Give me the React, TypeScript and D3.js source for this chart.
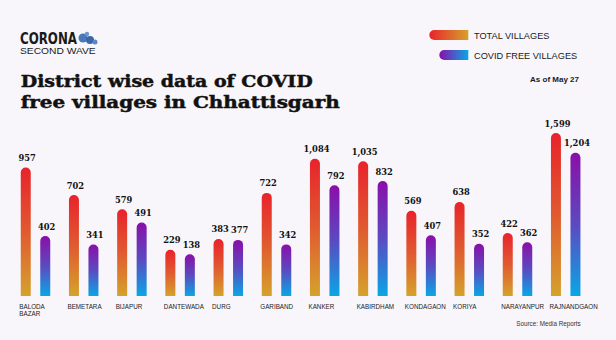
import React from "react";
import * as d3 from "d3";

const districts = ["BALODA BAZAR", "BEMETARA", "BIJAPUR", "DANTEWADA", "DURG", "GARIBAND", "KANKER", "KABIRDHAM", "KONDAGAON", "KORIYA", "NARAYANPUR", "RAJNANDGAON"];
const totalVillages = [957, 702, 579, 229, 383, 722, 1084, 1035, 569, 638, 422, 1599];
const covidFreeVillages = [402, 341, 491, 138, 377, 342, 792, 832, 407, 352, 362, 1204];
const seriesKeys = ["total", "free"];
const legendLabels = ["TOTAL VILLAGES", "COVID FREE VILLAGES"];
const titleLines = ["District wise data of COVID", "free villages in Chhattisgarh"];

const W = 616, H = 340;
const BASE = 296;

export default function App() {
  const x0 = d3.scaleBand<string>().domain(districts).range([16, 16 + 12 * 48.2]).padding(0);
  const x1 = d3.scaleBand<string>().domain(seriesKeys).range([0, 39]).padding(0);
  // the original graphic uses a non-proportional (hand-tuned) vertical scale
  const y = d3.scaleLinear().domain([0, 100, 350, 600, 1000, 1600]).range([BASE - 32, BASE - 40, BASE - 52, BASE - 90, BASE - 133, BASE - 163]);
  const fmt = d3.format(",");
  const barW = 10;

  const barPath = (cx: number, top: number) => {
    const r = barW / 2;
    const l = cx - r, rr = cx + r;
    return `M${l},${BASE}V${top + r}A${r},${r} 0 0 1 ${rr},${top + r}V${BASE}Z`;
  };

  const legendPath = (x: number, yTop: number, w: number, h: number) => {
    const r = h / 2;
    return `M${x + r},${yTop}H${x + w}V${yTop + h}H${x + r}A${r},${r} 0 0 1 ${x + r},${yTop}Z`;
  };

  const sans = "'Liberation Sans', Arial, sans-serif";
  const serif = "'DejaVu Serif', serif";
  const logoFont = "'DejaVu Sans', sans-serif";

  return (
    <div style={{ position: "fixed", left: 0, top: 0 }}>
      <svg width={W} height={H} viewBox={`0 0 ${W} ${H}`}>
        <defs>
          <linearGradient id="gTotal" x1="0" y1="0" x2="0" y2="1">
            <stop offset="0%" stopColor="#e8232b" />
            <stop offset="50%" stopColor="#e05a30" />
            <stop offset="100%" stopColor="#d5a22c" />
          </linearGradient>
          <linearGradient id="gFree" x1="0" y1="0" x2="0" y2="1">
            <stop offset="0%" stopColor="#8a0fa8" />
            <stop offset="50%" stopColor="#5b4ac0" />
            <stop offset="100%" stopColor="#0aa6e6" />
          </linearGradient>
          <linearGradient id="gTotalH" x1="0" y1="0" x2="1" y2="0">
            <stop offset="0%" stopColor="#e8232b" />
            <stop offset="100%" stopColor="#d5a22c" />
          </linearGradient>
          <linearGradient id="gFreeH" x1="0" y1="0" x2="1" y2="0">
            <stop offset="0%" stopColor="#8a0fa8" />
            <stop offset="100%" stopColor="#0aa6e6" />
          </linearGradient>
        </defs>
        <rect x={0} y={0} width={W} height={H} fill="#f8f6fa" />

        {/* Logo */}
        <g>
          <text x={20} y={43.5} fontFamily={logoFont} fontWeight="bold" fontSize={15.5} fill="#1a1a1a" textLength={57} lengthAdjust="spacingAndGlyphs">CORONA</text>
          <circle cx={83} cy={38} r={4.5} fill="#4a78b8" />
          <circle cx={90} cy={40} r={4} fill="#3b66a8" />
          <circle cx={95} cy={42} r={2.5} fill="#5a88c4" />
          <circle cx={87} cy={34} r={2.2} fill="#6c96cc" />
          <text x={20} y={54} fontFamily={sans} fontSize={8.8} fill="#1a1a1a" textLength={75.7} lengthAdjust="spacingAndGlyphs">SECOND WAVE</text>
        </g>

        {/* Title */}
        <text x={20.7} y={86.5} fontFamily={serif} fontWeight="bold" fontSize={17.5} fill="#111" stroke="#111" strokeWidth={0.5} textLength={292} lengthAdjust="spacingAndGlyphs">{titleLines[0]}</text>
        <text x={20.7} y={107.5} fontFamily={serif} fontWeight="bold" fontSize={17.5} fill="#111" stroke="#111" strokeWidth={0.5} textLength={319} lengthAdjust="spacingAndGlyphs">{titleLines[1]}</text>

        {/* Legend */}
        <path d={legendPath(429.3, 30, 39, 10)} fill="url(#gTotalH)" />
        <text x={474} y={38.5} fontFamily={sans} fontSize={9.2} fill="#1a1a1a">{legendLabels[0]}</text>
        <path d={legendPath(439.3, 50, 29, 10)} fill="url(#gFreeH)" />
        <text x={474} y={58.5} fontFamily={sans} fontSize={9.2} fill="#1a1a1a">{legendLabels[1]}</text>
        <text x={579} y={81.5} textAnchor="end" fontFamily={sans} fontWeight="bold" fontSize={8} fill="#1a1a1a">As of May 27</text>

        {/* Bars */}
        {districts.map((d, i) => {
          const gx = x0(d)!;
          const vals = [totalVillages[i], covidFreeVillages[i]];
          const words = d.split(" ");
          return (
            <g key={d}>
              {seriesKeys.map((k, j) => {
                const cx = gx + x1(k)! + x1.bandwidth() / 2;
                const top = y(vals[j]);
                return (
                  <g key={k}>
                    <path d={barPath(cx, top)} fill={j === 0 ? "url(#gTotal)" : "url(#gFree)"} />
                    <text x={cx + 1.5} y={top - 6.5} textAnchor="middle" fontFamily={serif} fontWeight="bold" fontSize={8.3} fill="#111">{fmt(vals[j])}</text>
                  </g>
                );
              })}
              {words.map((w, wi) => (
                <text key={wi} x={gx + 3.25} y={308.5 + wi * 7} fontFamily={sans} fontSize={6.3} fill="#222">{w}</text>
              ))}
            </g>
          );
        })}

        <text x={580.7} y={325.5} textAnchor="end" fontFamily={sans} fontSize={6.3} fill="#333">Source: Media Reports</text>
      </svg>
    </div>
  );
}
